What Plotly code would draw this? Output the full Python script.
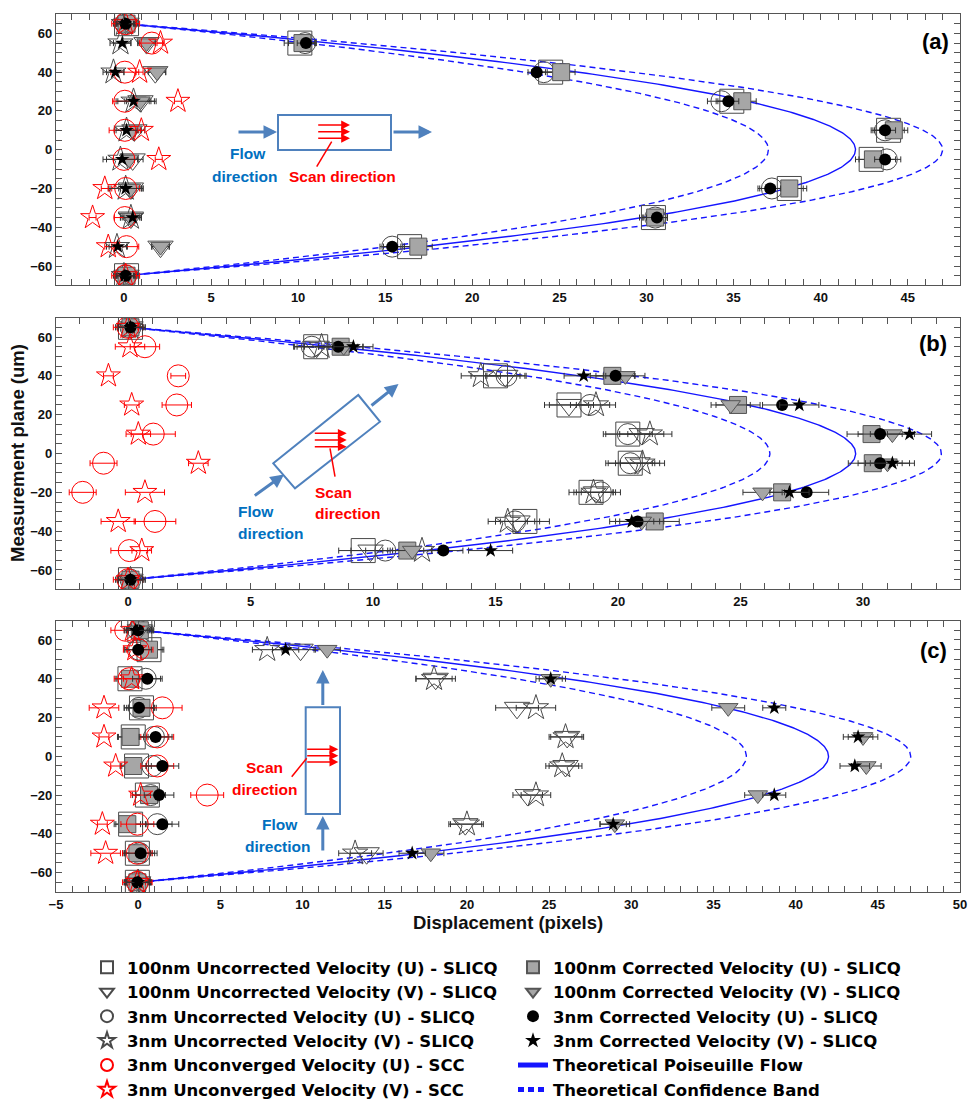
import numpy as np
import plotly.graph_objects as go

# ---------------- data ----------------
y_planes = [65, 55, 40, 25, 10, -5, -20, -35, -50, -65]

# theoretical Poiseuille profile parameters (peak displacement, band half-width, channel half-height)
channel_half = 65.0
peak_a, band_a = 42.0, 5.0
peak_b, band_b = 29.7, 3.5
peak_c, band_c = 42.0, 5.0

# ---- panel (a) ----
a_sq_unc = [0.15, 10.1, 24.5, 34.9, 43.9, 42.9, 38.2, 30.4, 16.4, 0.15]
a_tri_unc = [0.15, 1.3, 1.8, 0.95, 0.6, 0.5, 0.4, 0.4, 2.1, 0.15]
a_ci_unc = [0.1, 10.4, 24.1, 34.3, 43.7, 43.8, 37.2, 30.5, 15.4, 0.1]
a_st_unc = [0.0, -0.2, -0.6, 0.55, 0.15, -0.2, 0.1, 0.4, -0.4, 0.0]
a_rc = [0.1, 1.6, 0.05, 0.05, 0.05, 0.0, 0.1, 0.05, 0.15, 0.1]
a_rs = [0.1, 2.1, 0.9, 3.1, 1.0, 2.0, -1.1, -1.8, -0.9, 0.1]
a_sq_cor = [0.15, 10.25, 25.1, 35.5, 44.2, 43.0, 38.2, 30.5, 16.9, 0.15]
a_tri_cor = [0.15, 1.3, 1.9, 0.95, 0.5, 0.3, 0.4, 0.4, 2.1, 0.15]
a_ci_cor = [0.1, 10.45, 23.7, 34.7, 43.7, 43.7, 37.1, 30.6, 15.4, 0.1]
a_st_cor = [0.05, -0.1, -0.5, 0.55, 0.15, -0.1, 0.1, 0.5, -0.35, 0.05]

a_sq_unc_err = [0.7, 0.9, 0.9, 0.9, 0.9, 0.9, 1.0, 0.8, 0.9, 0.7]
a_tri_unc_err = [0.6, 0.5, 0.6, 0.9, 0.6, 0.6, 0.7, 0.6, 0.5, 0.6]
a_ci_unc_err = [0.6, 0.6, 0.7, 0.8, 0.8, 0.8, 0.8, 0.7, 0.7, 0.6]
a_st_unc_err = [0.6, 0.6, 0.6, 1.0, 0.7, 1.0, 1.0, 0.6, 0.6, 0.6]
a_rc_err = [0.8, 0.7, 0.8, 0.7, 0.9, 0.6, 0.8, 0.6, 0.7, 0.8]
a_rs_err = [0.2, 0.2, 0.2, 0.2, 0.2, 0.2, 0.2, 0.2, 0.2, 0.2]
a_sq_cor_err = [0.6, 0.8, 0.8, 0.8, 0.8, 0.8, 0.8, 0.7, 0.8, 0.6]
a_tri_cor_err = [0.5, 0.5, 0.5, 0.8, 0.5, 0.5, 0.6, 0.5, 0.5, 0.5]
a_ci_cor_err = [0.5, 0.5, 0.5, 0.6, 0.6, 0.6, 0.6, 0.6, 0.5, 0.5]
a_st_cor_err = [0.5, 0.5, 0.5, 0.9, 0.6, 0.9, 0.9, 0.5, 0.5, 0.5]

# ---- panel (b) ----
b_sq_unc = [0.1, 7.66, 15.0, 18.0, 20.4, 20.5, 18.9, 16.2, 9.6, 0.1]
b_tri_unc = [0.1, 7.7, 15.4, 18.0, 20.97, 20.8, 19.1, 15.9, 9.9, 0.1]
b_ci_unc = [0.1, 7.5, 15.45, 18.86, 20.4, 20.5, 19.3, 15.8, 10.5, 0.1]
b_st_unc = [0.1, 7.9, 14.4, 19.1, 21.3, 21.0, 19.0, 15.5, 12.0, 0.1]
b_rc = [0.0, 0.69, 2.05, 1.99, 1.03, -1.0, -1.85, 1.1, 0.05, 0.0]
b_rs = [0.0, 0.08, -0.8, 0.15, 0.42, 2.87, 0.69, -0.4, 0.56, 0.0]
b_sq_cor = [0.1, 8.68, 19.77, 24.9, 30.35, 30.4, 26.7, 21.5, 11.4, 0.1]
b_tri_cor = [0.1, 8.8, 20.3, 24.6, 31.2, 31.0, 25.9, 20.97, 11.6, 0.1]
b_ci_cor = [0.1, 8.58, 19.9, 26.7, 30.7, 30.7, 27.7, 20.8, 12.87, 0.1]
b_st_cor = [0.1, 9.2, 18.6, 27.4, 31.9, 31.2, 27.0, 20.56, 14.8, 0.1]

b_sq_unc_err = [0.6, 0.9, 1.0, 1.0, 1.0, 1.0, 0.9, 1.0, 1.0, 0.6]
b_tri_unc_err = [0.5, 0.8, 0.8, 0.8, 0.9, 0.9, 0.8, 0.9, 0.8, 0.5]
b_ci_unc_err = [0.5, 0.7, 0.8, 0.8, 0.9, 0.9, 0.8, 0.8, 0.8, 0.5]
b_st_unc_err = [0.5, 0.7, 0.8, 0.8, 0.9, 0.9, 0.8, 0.8, 0.8, 0.5]
b_rc_err = [0.6, 0.6, 0.3, 0.6, 0.9, 0.55, 0.55, 0.85, 0.75, 0.6]
b_rs_err = [0.4, 0.6, 0.2, 0.3, 0.5, 0.4, 0.8, 0.7, 0.4, 0.4]
b_sq_cor_err = [0.6, 0.9, 0.9, 0.9, 1.0, 1.0, 0.9, 1.0, 1.0, 0.6]
b_tri_cor_err = [0.5, 0.8, 0.8, 0.8, 0.9, 0.9, 0.8, 0.9, 0.8, 0.5]
b_ci_cor_err = [0.5, 0.8, 0.8, 0.8, 0.9, 0.9, 0.9, 0.9, 0.8, 0.5]
b_st_cor_err = [0.5, 0.8, 0.8, 0.8, 0.9, 0.9, 0.8, 0.9, 0.9, 0.5]

# ---- panel (c) ----
c_sq_unc = [0.1, 0.66, -0.5, 0.2, -0.3, -0.1, 0.56, -0.46, -0.05, -0.05]
c_tri_unc = [0.1, 9.88, 18.1, 23.05, 26.1, 26.0, 23.7, 19.9, 13.9, 0.0]
c_ci_unc = [0.0, 0.05, 0.46, 0.05, 0.96, 0.86, 0.76, 1.16, 0.1, -0.05]
c_st_unc = [0.15, 7.85, 18.0, 24.2, 26.0, 25.8, 24.2, 20.0, 13.2, 0.0]
c_rc = [-0.76, 0.0, -0.56, 1.47, 1.16, 1.16, 4.2, -0.05, -0.05, -0.05]
c_rs = [-0.35, -0.2, -0.4, -2.08, -2.08, -1.37, 0.15, -2.18, -1.98, -0.05]
c_sq_cor = [0.1, 0.66, -0.5, 0.2, -0.46, -0.3, 0.66, -0.66, -0.05, -0.05]
c_tri_cor = [0.1, 11.5, 25.1, 35.9, 44.1, 44.3, 37.7, 29.0, 17.8, 0.0]
c_ci_cor = [0.0, 0.0, 0.56, 0.05, 1.06, 1.47, 1.27, 1.47, 0.15, -0.05]
c_st_cor = [-0.15, 8.97, 25.1, 38.7, 43.8, 43.6, 38.7, 28.9, 16.67, 0.0]

c_sq_unc_err = [0.8, 0.9, 0.9, 0.9, 0.9, 0.9, 0.9, 0.9, 0.9, 0.8]
c_tri_unc_err = [0.8, 0.9, 1.2, 1.3, 1.0, 1.0, 0.9, 1.0, 1.0, 0.8]
c_ci_unc_err = [0.8, 0.9, 0.9, 0.9, 0.9, 0.9, 0.9, 0.9, 0.9, 0.8]
c_st_unc_err = [0.8, 0.9, 1.1, 1.2, 1.0, 1.0, 0.9, 1.0, 1.0, 0.8]
c_rc_err = [0.9, 0.9, 0.9, 1.2, 1.0, 1.0, 1.0, 1.0, 0.9, 0.9]
c_rs_err = [0.5, 0.5, 0.5, 0.9, 0.3, 0.3, 0.6, 0.3, 0.9, 0.5]
c_sq_cor_err = [0.7, 0.8, 0.8, 0.8, 0.8, 0.8, 0.8, 0.8, 0.8, 0.7]
c_tri_cor_err = [0.7, 0.8, 0.9, 1.0, 0.9, 0.9, 0.8, 0.9, 0.8, 0.7]
c_ci_cor_err = [0.7, 0.8, 0.9, 0.9, 1.0, 1.0, 0.9, 1.0, 1.0, 0.7]
c_st_cor_err = [0.7, 0.8, 0.7, 0.7, 0.9, 0.9, 0.7, 0.8, 0.8, 0.7]

x_ranges = [[-3.9, 48.0], [-2.94, 33.96], [-5.0, 50.0]]
panel_labels = ["(a)", "(b)", "(c)"]

# ---------------- styling ----------------
GRAY_LINE = "#4a4a4a"
GRAY_FILL = "#a6a6a6"
RED = "#ff0000"

styles = {
    "sq_unc": dict(name="100nm Uncorrected Velocity (U) - SLICQ", symbol="square-open", size=24,
                   color=GRAY_LINE, lw=1, legend="legend", rank=1, ecol="#333"),
    "tri_unc": dict(name="100nm Uncorrected Velocity (V) - SLICQ", symbol="triangle-down-open", size=22,
                    color=GRAY_LINE, lw=1, legend="legend", rank=2, ecol="#333"),
    "ci_unc": dict(name="3nm Uncorrected Velocity (U) - SLICQ", symbol="circle-open", size=21,
                   color=GRAY_LINE, lw=1, legend="legend", rank=3, ecol="#333"),
    "st_unc": dict(name="3nm Uncorrected Velocity (V) - SLICQ", symbol="star-open", size=19,
                   color=GRAY_LINE, lw=1, legend="legend", rank=4, ecol="#333"),
    "sq_cor": dict(name="100nm Corrected Velocity (U) - SLICQ", symbol="square", size=17,
                   color=GRAY_FILL, lc="#555555", lw=1, legend="legend2", rank=1, ecol="#333"),
    "tri_cor": dict(name="100nm Corrected Velocity (V) - SLICQ", symbol="triangle-down", size=17,
                    color=GRAY_FILL, lc="#555555", lw=1, legend="legend2", rank=2, ecol="#333"),
    "rc": dict(name="3nm Unconverged Velocity (U) - SCC", symbol="circle-open", size=22,
               color=RED, lw=1, legend="legend", rank=5, ecol=RED),
    "rs": dict(name="3nm Unconverged Velocity (V) - SCC", symbol="star-open", size=18,
               color=RED, lw=1, legend="legend", rank=6, ecol=RED),
    "ci_cor": dict(name="3nm Corrected Velocity (U) - SLICQ", symbol="circle", size=12,
                   color="black", lc="black", lw=0, legend="legend2", rank=3, ecol="#333"),
    "st_cor": dict(name="3nm Corrected Velocity (V) - SLICQ", symbol="star", size=11,
                   color="black", lc="black", lw=0, legend="legend2", rank=4, ecol="#333"),
}
draw_order = ["sq_unc", "tri_unc", "ci_unc", "st_unc", "sq_cor", "tri_cor", "rc", "rs", "ci_cor", "st_cor"]

panels = [
    dict(xa="x", ya="y", peak=peak_a, band=band_a, series={
        "sq_unc": (a_sq_unc, a_sq_unc_err), "tri_unc": (a_tri_unc, a_tri_unc_err),
        "ci_unc": (a_ci_unc, a_ci_unc_err), "st_unc": (a_st_unc, a_st_unc_err),
        "rc": (a_rc, a_rc_err), "rs": (a_rs, a_rs_err),
        "sq_cor": (a_sq_cor, a_sq_cor_err), "tri_cor": (a_tri_cor, a_tri_cor_err),
        "ci_cor": (a_ci_cor, a_ci_cor_err), "st_cor": (a_st_cor, a_st_cor_err)}),
    dict(xa="x2", ya="y2", peak=peak_b, band=band_b, series={
        "sq_unc": (b_sq_unc, b_sq_unc_err), "tri_unc": (b_tri_unc, b_tri_unc_err),
        "ci_unc": (b_ci_unc, b_ci_unc_err), "st_unc": (b_st_unc, b_st_unc_err),
        "rc": (b_rc, b_rc_err), "rs": (b_rs, b_rs_err),
        "sq_cor": (b_sq_cor, b_sq_cor_err), "tri_cor": (b_tri_cor, b_tri_cor_err),
        "ci_cor": (b_ci_cor, b_ci_cor_err), "st_cor": (b_st_cor, b_st_cor_err)}),
    dict(xa="x3", ya="y3", peak=peak_c, band=band_c, series={
        "sq_unc": (c_sq_unc, c_sq_unc_err), "tri_unc": (c_tri_unc, c_tri_unc_err),
        "ci_unc": (c_ci_unc, c_ci_unc_err), "st_unc": (c_st_unc, c_st_unc_err),
        "rc": (c_rc, c_rc_err), "rs": (c_rs, c_rs_err),
        "sq_cor": (c_sq_cor, c_sq_cor_err), "tri_cor": (c_tri_cor, c_tri_cor_err),
        "ci_cor": (c_ci_cor, c_ci_cor_err), "st_cor": (c_st_cor, c_st_cor_err)}),
]

fig = go.Figure()
y_curve = np.linspace(-channel_half, channel_half, 301)
shape_fn = 1 - (y_curve / channel_half) ** 2

for i, p in enumerate(panels):
    first = (i == 0)
    fig.add_trace(go.Scatter(x=p["peak"] * shape_fn, y=y_curve, mode="lines", xaxis=p["xa"], yaxis=p["ya"],
                             line=dict(color="#1515ff", width=1.4), name="Theoretical Poiseuille Flow",
                             legend="legend2", legendrank=5, showlegend=first, hoverinfo="skip"))
    for j, sgn in enumerate([-1, 1]):
        fig.add_trace(go.Scatter(x=(p["peak"] + sgn * p["band"]) * shape_fn, y=y_curve, mode="lines",
                                 xaxis=p["xa"], yaxis=p["ya"],
                                 line=dict(color="#1515ff", width=1.4, dash="6px,4px"),
                                 name="Theoretical Confidence Band", legend="legend2", legendrank=6,
                                 showlegend=(first and j == 0), hoverinfo="skip"))
    for key in draw_order:
        st = styles[key]
        vals, errs = p["series"][key]
        fig.add_trace(go.Scatter(
            x=vals, y=y_planes, mode="markers", xaxis=p["xa"], yaxis=p["ya"],
            name=st["name"], legend=st["legend"], legendrank=st["rank"], showlegend=first,
            marker=dict(symbol=st["symbol"], size=st["size"], color=st["color"],
                        line=dict(color=st.get("lc", st["color"]), width=st["lw"])),
            error_x=dict(type="data", array=errs, color=st["ecol"], thickness=1, width=3),
        ))

# ---------------- layout ----------------
W, H = 968, 1112
L, R, T, B = 56, 8, 14, 220
PW, PH = W - L - R, H - T - B


def px(xp):  # reference-picture x pixel -> paper
    return (xp - L) / PW


def py(yp):  # reference-picture y pixel -> paper
    return (H - B - yp) / PH


tickfont = dict(family="Liberation Sans, Arial, sans-serif", size=13, color="#111", weight="bold")
frame = "#555555"
domains = [[py(285.4), 1.0], [py(589.4), py(317.6)], [0.0, py(620.6)]]

for i in range(3):
    sx = "" if i == 0 else str(i + 1)
    fig.layout["xaxis" + sx] = dict(
        domain=[0, 1], anchor="y" + sx, range=x_ranges[i], showgrid=False, zeroline=False,
        showline=True, linecolor=frame, linewidth=1.2, mirror="ticks",
        ticks="inside", ticklen=6, tickcolor=frame, tick0=0, dtick=5, tickfont=tickfont,
        minor=dict(dtick=1, ticks="inside", ticklen=6, tickcolor=frame),
    )
    fig.layout["yaxis" + sx] = dict(
        domain=domains[i], anchor="x" + sx, range=[-70, 70], showgrid=False, zeroline=False,
        showline=True, linecolor=frame, linewidth=1.2, mirror="ticks",
        ticks="inside", ticklen=6, tickcolor=frame, tickvals=[-60, -40, -20, 0, 20, 40, 60],
        tickfont=tickfont, minor=dict(dtick=5, ticks="inside", ticklen=6, tickcolor=frame),
    )

BLUE_BOX = "#4f81bd"
BLUE_TXT = "#0070c0"
txtfont = "Liberation Sans, Arial, sans-serif"
shapes = []
annotations = []


def text_at(x, y, text, size, color, anchor="center", angle=0):
    annotations.append(dict(x=px(x), y=py(y), xref="paper", yref="paper", text=text, showarrow=False,
                            xanchor=anchor, yanchor="middle", textangle=angle,
                            font=dict(family=txtfont, size=size, color=color, weight="bold")))


# panel labels
for lab, (xp, yp) in zip(panel_labels, [(935, 42), (933, 344), (933, 650)]):
    text_at(xp, yp, lab, 22, "black")

# axis titles
text_at(508, 922, "Displacement (pixels)", 18.5, "#111")
text_at(17, 453, "Measurement plane (um)", 18.5, "#111", angle=-90)


def arrow(x0, y0, x1, y1, color, width, size=1.0):
    annotations.append(dict(x=px(x1), y=py(y1), xref="paper", yref="paper", ax=x0 - x1, ay=y0 - y1,
                            text="", showarrow=True, arrowhead=2, arrowsize=size, arrowwidth=width,
                            arrowcolor=color))


def seg(x0, y0, x1, y1, color, width):
    shapes.append(dict(type="line", xref="paper", yref="paper", x0=px(x0), y0=py(y0), x1=px(x1), y1=py(y1),
                       line=dict(color=color, width=width)))


# inset (a)
shapes.append(dict(type="rect", xref="paper", yref="paper", x0=px(278), x1=px(391), y0=py(150), y1=py(115),
                   line=dict(color=BLUE_BOX, width=2)))
arrow(237, 132, 277, 132, BLUE_BOX, 3, 0.9)
arrow(392, 132, 432, 132, BLUE_BOX, 3, 0.9)
for yy in (125, 131.7, 138.3):
    arrow(316.7, yy, 350, yy, RED, 1.6, 1.1)
seg(331.7, 141.7, 316.7, 166.7, RED, 1.5)
text_at(248, 153, "Flow", 15.5, BLUE_TXT)
text_at(244, 176, "direction", 15.5, BLUE_TXT)
text_at(342, 176, "Scan direction", 15.5, RED)

# inset (b)
shapes.append(dict(type="path", xref="paper", yref="paper",
                   path="M {} {} L {} {} L {} {} L {} {} Z".format(px(273.3), py(463.3), px(358.3), py(395),
                                                                  px(380), py(421.7), px(295), py(488.3)),
                   line=dict(color=BLUE_BOX, width=2)))
arrow(253.3, 496.7, 284, 474.5, BLUE_BOX, 3, 0.9)
arrow(370, 406.7, 398.5, 384, BLUE_BOX, 3, 0.9)
for yy in (433.3, 440, 446.7):
    arrow(313.3, yy, 346.7, yy, RED, 1.6, 1.1)
seg(330, 448.3, 335, 476.7, RED, 1.5)
text_at(313, 492, "Scan", 15.5, RED, "left")
text_at(313, 513, "direction", 15.5, RED, "left")
text_at(236, 511, "Flow", 15.5, BLUE_TXT, "left")
text_at(236, 533, "direction", 15.5, BLUE_TXT, "left")

# inset (c)
shapes.append(dict(type="rect", xref="paper", yref="paper", x0=px(305.7), x1=px(340), y0=py(814), y1=py(707.3),
                   line=dict(color=BLUE_BOX, width=2)))
arrow(322.8, 706.5, 322.8, 670, BLUE_BOX, 3, 0.9)
arrow(322.8, 852, 322.8, 816, BLUE_BOX, 3, 0.9)
for yy in (749.3, 755.7, 762):
    arrow(305.7, yy, 338.3, yy, RED, 1.6, 1.1)
seg(306.7, 758.3, 291.7, 776.7, RED, 1.5)
text_at(264, 767, "Scan", 15.5, RED)
text_at(264, 789, "direction", 15.5, RED)
text_at(280, 824, "Flow", 15.5, BLUE_TXT)
text_at(277, 846, "direction", 15.5, BLUE_TXT)

legend_font = dict(family="DejaVu Sans, sans-serif", size=16.5, color="black", weight="bold")
fig.update_layout(
    width=W, height=H,
    margin=dict(l=L, r=R, t=T, b=B, autoexpand=False),
    paper_bgcolor="white", plot_bgcolor="white",
    shapes=shapes, annotations=annotations,
    legend=dict(x=px(87), y=py(950), xanchor="left", yanchor="top", xref="paper", yref="paper",
                font=legend_font, itemsizing="constant", traceorder="normal", bgcolor="rgba(0,0,0,0)"),
    legend2=dict(x=px(513), y=py(950), xanchor="left", yanchor="top", xref="paper", yref="paper",
                 font=legend_font, itemsizing="constant", traceorder="normal", bgcolor="rgba(0,0,0,0)"),
    showlegend=True,
)

# remove the default 8px page margin so the figure fills the window exactly
fig.write_html("out.html", config={"displayModeBar": False},
               post_script="document.body.style.margin='0px';document.body.style.overflow='hidden';")
